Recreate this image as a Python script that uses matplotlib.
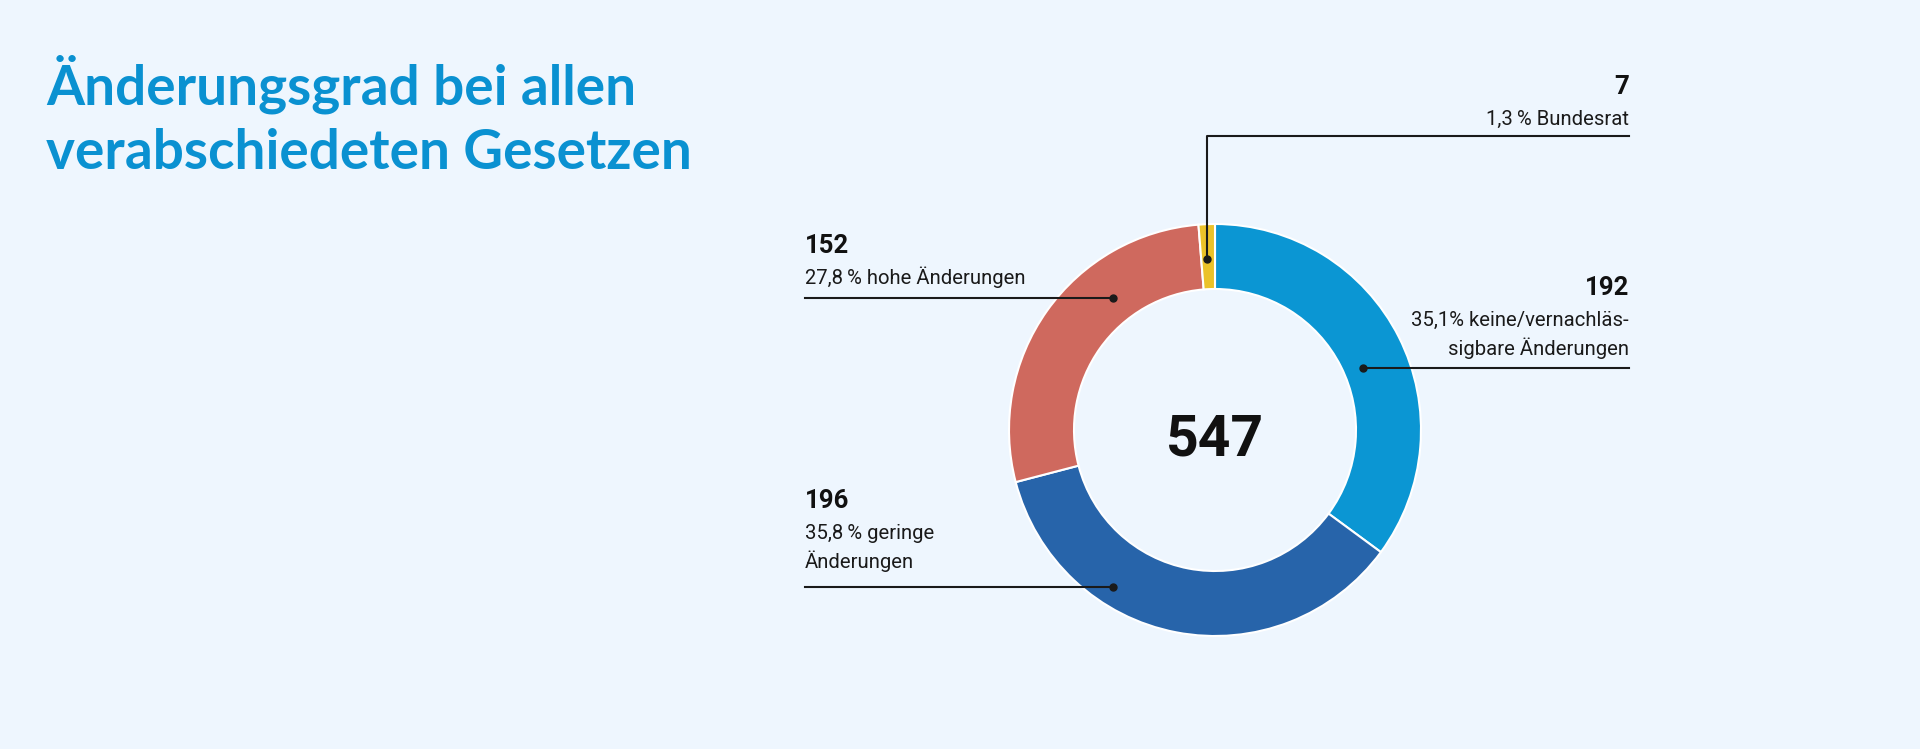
import matplotlib.pyplot as plt

# data
categories = ['keine/vernachlässigbare Änderungen', 'geringe Änderungen', 'hohe Änderungen', 'Bundesrat']
counts = [192, 196, 152, 7]
percent_labels = ['35,1%', '35,8\u2009%', '27,8\u2009%', '1,3\u2009%']
colors = ['#0b96d3', '#2764aa', '#cf695e', '#ebc229']

title_lines = ['Änderungsgrad bei allen', 'verabschiedeten Gesetzen']
total = sum(counts)

bg = '#eef6fe'
W, H = 1920, 749

fig = plt.figure(figsize=(W / 100, H / 100), dpi=100, facecolor=bg)
ax = fig.add_axes([0, 0, 1, 1])
ax.set_facecolor(bg)

# pixel coordinates, y axis pointing down -> visual clockwise is data counterclockwise
cx, cy, r = 1215, 430, 206
ax.pie(counts, colors=colors, startangle=-90, counterclock=True,
       radius=r, center=(cx, cy), frame=True,
       wedgeprops=dict(width=65, edgecolor='white', linewidth=1.5))
ax.set_xlim(0, W)
ax.set_ylim(H, 0)
ax.set_aspect('equal')
ax.axis('off')

fam = ['Roboto', 'DejaVu Sans']
line_c = '#1a1a1a'

# title
for i, t in enumerate(title_lines):
    ax.text(46, 104 + 65 * i, t, color='#0a91d1', fontsize=39.5, fontweight='bold',
            family=['Lato', 'DejaVu Sans'], ha='left', va='baseline')

# center total
ax.text(cx, 455, str(total), fontsize=41, fontweight='bold', family=fam,
        ha='center', va='baseline', color='#111111')

num_fs, sub_fs = 18.5, 14.6


def label(x, y_num, sub_lines, ha, value):
    ax.text(x, y_num, str(value), fontsize=num_fs, fontweight='bold', family=fam,
            ha=ha, va='baseline', color='#111111')
    for i, s in enumerate(sub_lines):
        ax.text(x, y_num + 31 + 29 * i, s, fontsize=sub_fs, family=fam,
                ha=ha, va='baseline', color='#1a1a1a')


# hohe Änderungen (left, top)
label(805, 253, [percent_labels[2] + ' hohe Änderungen'], 'left', counts[2])
ax.plot([805, 1113], [298, 298], color=line_c, lw=1.5)
ax.plot(1113, 298, 'o', color=line_c, ms=5)

# geringe Änderungen (left, bottom)
label(805, 508, [percent_labels[1] + ' geringe', 'Änderungen'], 'left', counts[1])
ax.plot([805, 1113], [587, 587], color=line_c, lw=1.5)
ax.plot(1113, 587, 'o', color=line_c, ms=5)

# keine/vernachlässigbare (right)
label(1629, 295, [percent_labels[0] + ' keine/vernachläs-', 'sigbare Änderungen'], 'right', counts[0])
ax.plot([1363, 1629], [368, 368], color=line_c, lw=1.5)
ax.plot(1363, 368, 'o', color=line_c, ms=5)

# Bundesrat (top right)
label(1629, 94, [percent_labels[3] + ' Bundesrat'], 'right', counts[3])
ax.plot([1207, 1207, 1629], [259, 136, 136], color=line_c, lw=1.5)
ax.plot(1207, 259, 'o', color=line_c, ms=5)

fig.savefig('out.png', dpi=100, facecolor=bg)
